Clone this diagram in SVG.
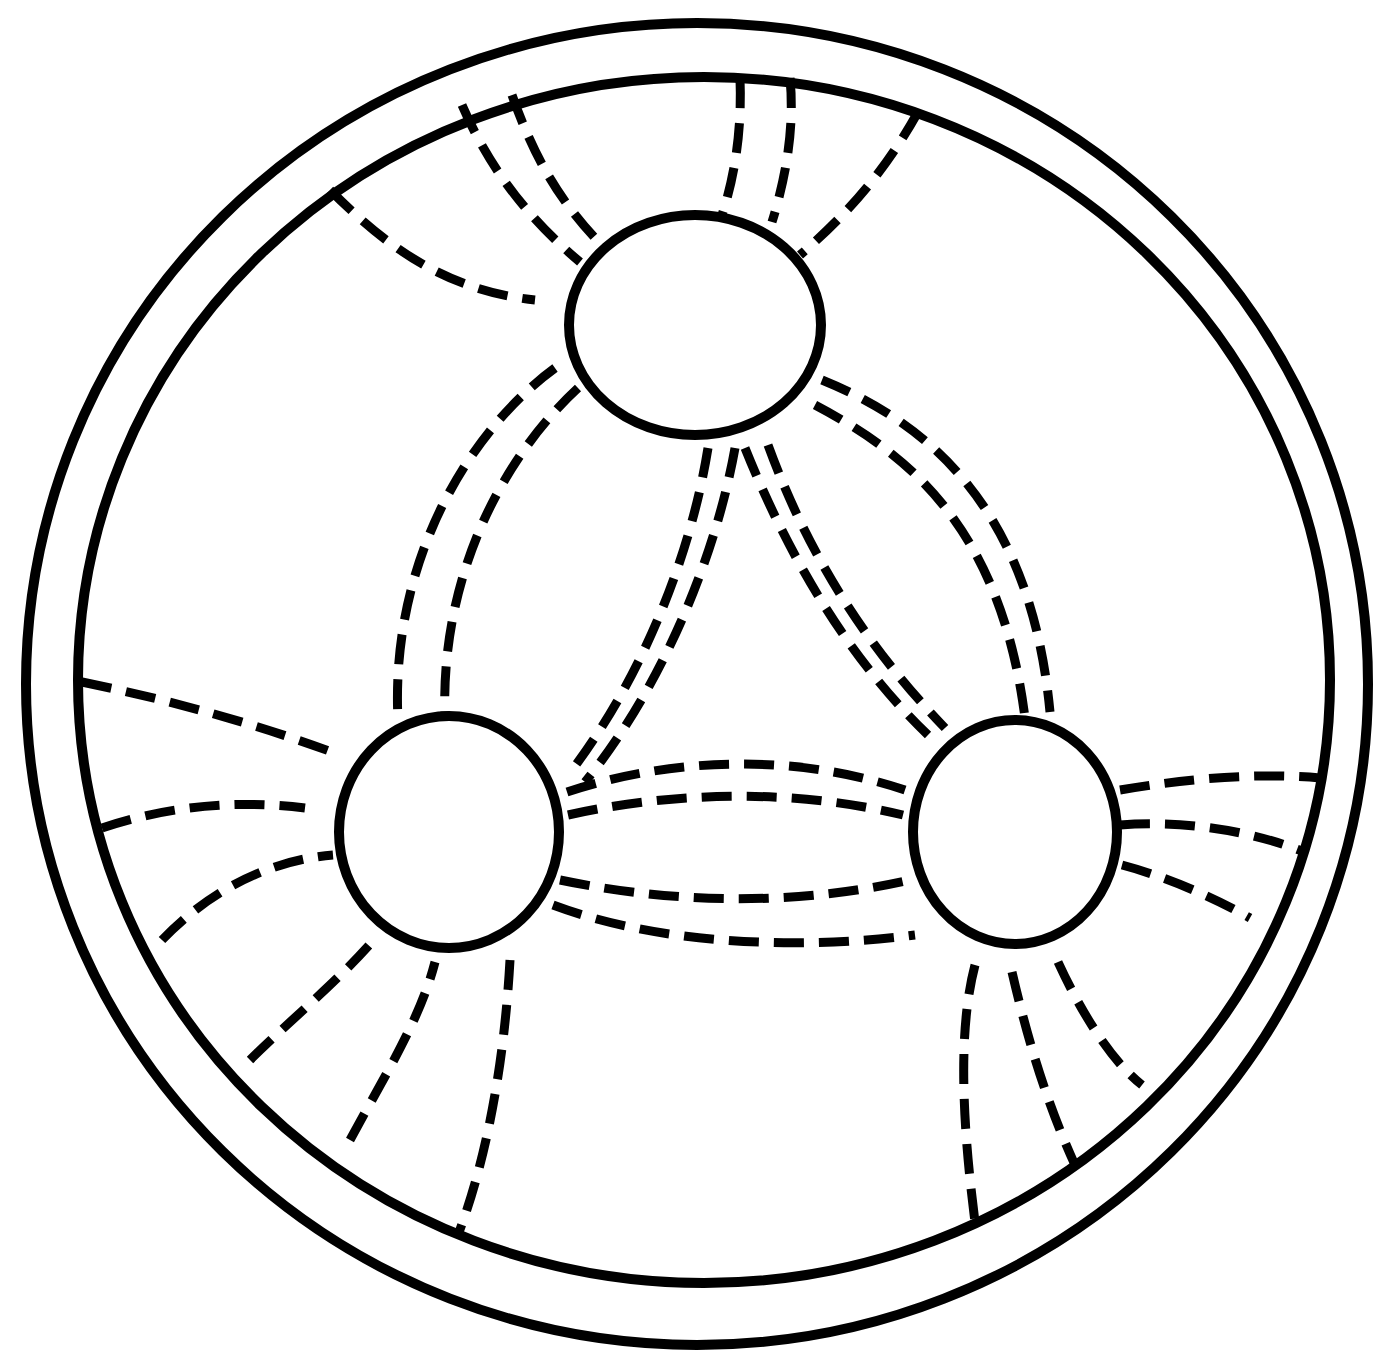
<svg xmlns="http://www.w3.org/2000/svg" width="1398" height="1366" viewBox="0 0 1398 1366">
<style>
.mem{fill:none;stroke:#000;stroke-width:10}
.nuc{fill:#fff;stroke:#000;stroke-width:10}
.fib{fill:none;stroke:#000;stroke-width:9;stroke-dasharray:30 15;stroke-linecap:butt}
</style>
<rect width="1398" height="1366" fill="#fff"/>
<g id="cell">
<ellipse class="mem" cx="697" cy="684" rx="671" ry="661"/>
<ellipse class="mem" cx="704" cy="680" rx="626" ry="603"/>
</g>
<g id="fibres">
<path class="fib" d="M330 190 C380 240 440 290 535 300"/>
<path class="fib" d="M462 105 C490 170 530 220 580 262"/>
<path class="fib" d="M512 95 C535 160 560 200 595 238"/>
<path class="fib" d="M740 78 C742 130 735 175 722 215"/>
<path class="fib" d="M790 78 C795 130 785 180 772 222"/>
<path class="fib" d="M918 112 C880 180 840 220 800 255"/>
<path class="fib" d="M555 368 C470 430 390 560 398 720"/>
<path class="fib" d="M578 388 C500 460 440 580 445 718"/>
<path class="fib" d="M708 448 C690 560 640 680 572 770"/>
<path class="fib" d="M735 448 C715 560 660 690 585 782"/>
<path class="fib" d="M745 448 C790 560 850 660 928 735"/>
<path class="fib" d="M768 445 C810 560 870 650 945 728"/>
<path class="fib" d="M822 380 C920 420 1030 500 1050 712"/>
<path class="fib" d="M815 405 C900 450 1000 520 1025 718"/>
<path class="fib" d="M82 682 C170 700 260 725 340 755"/>
<path class="fib" d="M102 828 C170 805 240 800 305 808"/>
<path class="fib" d="M162 940 C210 890 270 860 333 855"/>
<path class="fib" d="M250 1060 C290 1020 340 980 378 935"/>
<path class="fib" d="M350 1140 C385 1075 420 1020 435 962"/>
<path class="fib" d="M510 960 C505 1050 490 1150 458 1235"/>
<path class="fib" d="M1120 790 C1180 780 1250 772 1320 778"/>
<path class="fib" d="M1120 825 C1180 820 1250 830 1304 852"/>
<path class="fib" d="M1122 865 C1160 875 1210 895 1250 918"/>
<path class="fib" d="M975 965 C958 1030 962 1120 975 1222"/>
<path class="fib" d="M1012 972 C1030 1050 1050 1110 1075 1165"/>
<path class="fib" d="M1058 962 C1080 1010 1110 1060 1142 1085"/>
<path class="fib" d="M567 792 C680 755 800 755 905 790"/>
<path class="fib" d="M568 815 C680 790 800 790 903 815"/>
<path class="fib" d="M560 880 C680 905 800 905 910 880"/>
<path class="fib" d="M553 905 C660 945 800 950 915 935"/>
</g>
<g id="nucleus-top"><ellipse class="nuc" cx="695" cy="325" rx="126" ry="110"/></g>
<g id="nucleus-left"><ellipse class="nuc" cx="449" cy="832" rx="110" ry="116"/></g>
<g id="nucleus-right"><ellipse class="nuc" cx="1015" cy="832" rx="102" ry="112"/></g>
</svg>
